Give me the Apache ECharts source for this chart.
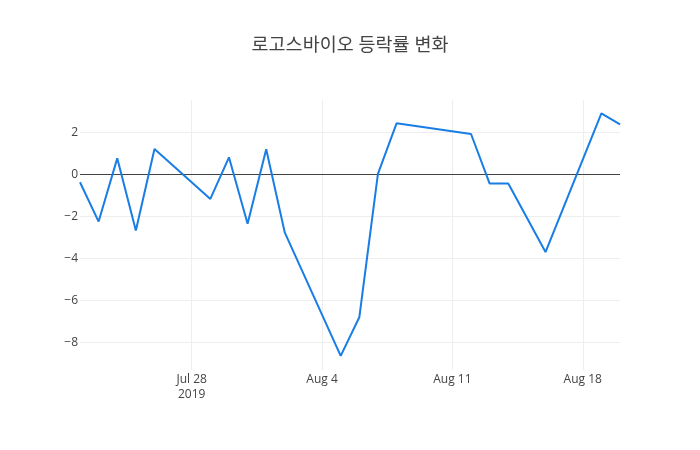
<!DOCTYPE html>
<html>
<head>
<meta charset="utf-8">
<script src="https://cdn.jsdelivr.net/npm/echarts@6/dist/echarts.min.js"></script>
<style>html,body{margin:0;padding:0;background:#fff}#c{width:700px;height:450px}</style>
</head>
<body>
<div id="c"></div>
<script>
var titleText = '로고스바이오 등락률 변화';
var dates = ['2019-07-22','2019-07-23','2019-07-24','2019-07-25','2019-07-26','2019-07-29','2019-07-30','2019-07-31','2019-08-01','2019-08-02','2019-08-05','2019-08-06','2019-08-07','2019-08-08','2019-08-12','2019-08-13','2019-08-14','2019-08-16','2019-08-19','2019-08-20'];
var changes = [-0.38,-2.25,0.76,-2.68,1.21,-1.17,0.81,-2.35,1.19,-2.78,-8.65,-6.81,0.02,2.43,1.92,-0.44,-0.44,-3.70,2.90,2.38];
var xTickDates = ['2019-07-28','2019-08-04','2019-08-11','2019-08-18'];
var xTickLabels = ['Jul 28\n2019','Aug 4','Aug 11','Aug 18'];
var yTicks = [-8,-6,-4,-2,0,2];

function ts(d){ var p = d.split('-'); return Date.UTC(+p[0], +p[1]-1, +p[2]); }
var xTickTs = xTickDates.map(ts);
var labelMap = {};
xTickTs.forEach(function(t,i){ labelMap[t] = xTickLabels[i]; });

var chart = echarts.init(document.getElementById('c'), null, {renderer:'canvas'});
chart.setOption({
  animation: false,
  backgroundColor: '#fff',
  title: {
    text: titleText, left: 'center', top: 31,
    textStyle: {fontFamily: '"Open Sans","Noto Sans CJK KR",sans-serif', fontSize: 18.5, fontWeight: 'normal', color: '#444'}
  },
  grid: {left: 80, right: 80, top: 100, bottom: 80, containLabel: false},
  xAxis: {
    type: 'value',
    min: ts(dates[0]), max: ts(dates[dates.length-1]),
    axisLine: {show: false},
    axisTick: {show: false, customValues: xTickTs},
    axisLabel: {
      customValues: xTickTs,
      formatter: function(v){ return labelMap[v] || ''; },
      color: '#444', fontSize: 12, fontFamily: '"Open Sans",sans-serif', lineHeight: 15, margin: 2
    },
    splitLine: {show: true, lineStyle: {color: '#eee', width: 1}}
  },
  yAxis: {
    type: 'value',
    min: -9.32, max: 3.54,
    axisLine: {show: false},
    axisTick: {show: false, customValues: yTicks},
    axisLabel: {
      customValues: yTicks,
      formatter: function(v){ return v < 0 ? '\u2212' + Math.abs(v) : String(v); },
      color: '#444', fontSize: 12, fontFamily: '"Open Sans",sans-serif', margin: 2
    },
    splitLine: {show: true, lineStyle: {color: '#eee', width: 1}}
  },
  series: [{
    type: 'line',
    data: dates.map(function(d,i){ return [ts(d), changes[i]]; }),
    showSymbol: false,
    symbol: 'none',
    lineStyle: {color: '#197de6', width: 2},
    z: 3,
    markLine: {
      silent: true, symbol: 'none', label: {show: false},
      lineStyle: {color: '#444', width: 1, type: 'solid'},
      data: [{yAxis: 0}],
      z: 2
    }
  }]
});
</script>
</body>
</html>
